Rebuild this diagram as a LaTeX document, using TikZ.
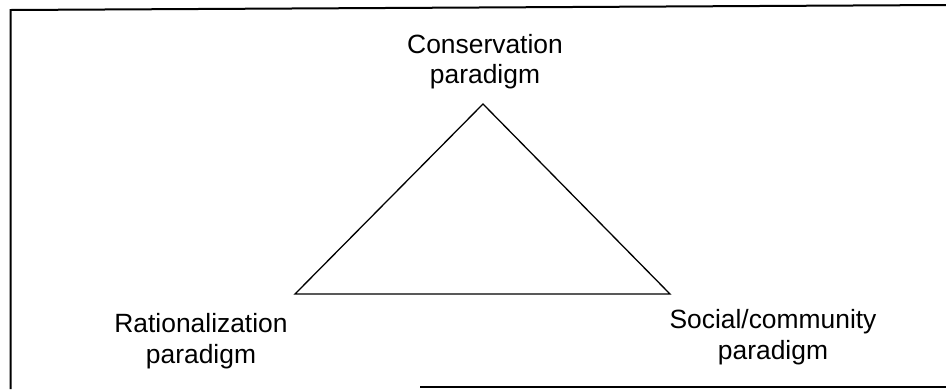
\documentclass[tikz,border=0pt]{standalone}
\usepackage{fontspec}
\setmainfont{Liberation Sans}
\begin{document}
\begin{tikzpicture}[x=1bp,y=-1bp,
  lbl/.style={align=center,font=\fontsize{26.5}{30.5}\selectfont,inner sep=0pt,anchor=base},
  edge/.style={draw=black,line width=1.3bp,line join=miter}]
\useasboundingbox (0,0) rectangle (946,389);
% frame
\coordinate (fbl) at (10.5,389);
\coordinate (ftl) at (10.5,10);
\coordinate (ftr) at (946,5);
\coordinate (fbs) at (420,386.5);
\coordinate (fbe) at (946,386.5);
\draw[line width=2bp] (fbl) -- (ftl) -- (ftr);
\draw[line width=2bp] (fbs) -- (fbe);
% triangle
\coordinate (apex) at (483,104);
\coordinate (bl) at (295,294);
\coordinate (br) at (670,294);
\draw[edge] (apex) -- (bl) -- (br) -- cycle;
% labels (anchor base = baseline of last line)
\node[lbl] (cons) at (485,83.5) {Conservation\\paradigm};
\node[lbl] (rat) at (201,363) {Rationalization\\paradigm};
\node[lbl] (soc) at (773,359) {Social/community\\paradigm};
\end{tikzpicture}
\end{document}
